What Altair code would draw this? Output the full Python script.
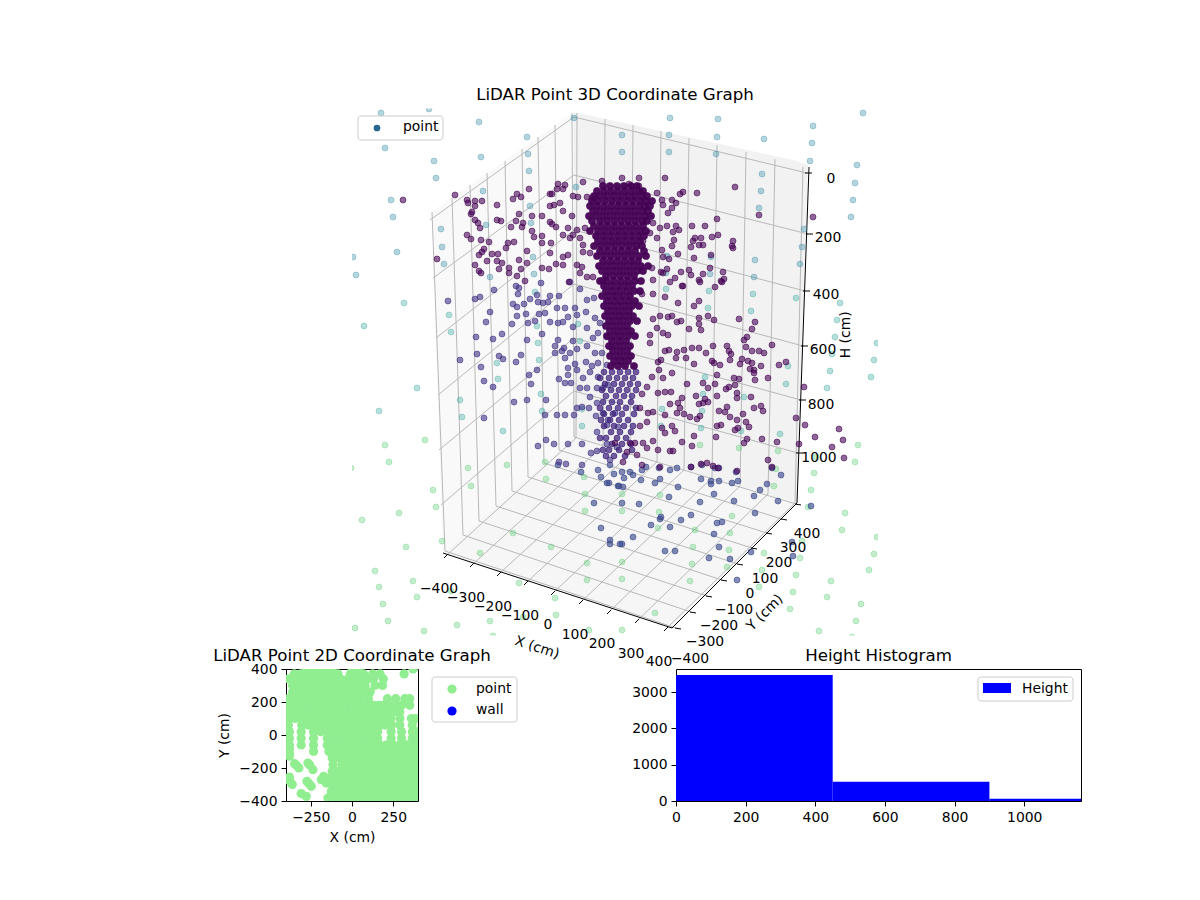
import altair as alt
import pandas as pd

FONT = "DejaVu Sans"
TICK_PX = 13.9
TITLE_PX = 16.67

# ---------- 3D view: projected screen positions ----------
far_top = [(381,113),(429,109),(479,122),(527,137),(574,118),(385,148),(434,161),(481,157),(528,154),(436,178),
 (529,171),(483,191),(391,200),(393,217),(576,187),(530,206),(531,223),(486,225),(441,229),(442,247),(397,252),
 (353,257),(356,275),(444,264),(533,257),(534,274),(490,277),(670,118),(718,119),(863,113),(813,126),(622,135),
 (669,135),(717,137),(764,139),(812,143),(622,152),(669,152),(716,154),(810,161),(857,165),(762,174),(855,183),
 (761,191),(853,200),(759,208),(851,217),(804,229),(802,247),(755,260),(800,264),(754,277),(711,257),(710,274),
 (666,273),(667,256),(622,186)]
far_mid = [(404,303),(364,326),(449,315),(451,332),(535,292),(537,326),(538,343),(539,360),(497,363),(498,379),
 (417,388),(460,400),(379,411),(462,417),(503,431),(541,394),(542,411),(582,426),(578,324),(580,341),(582,409),
 (666,289),(709,291),(753,294),(796,298),(840,303),(708,308),(751,311),(837,320),(835,337),(877,343),(832,354),
 (874,360),(788,366),(830,371),(871,377),(705,377),(786,384),(827,388),(744,397),(703,394),(702,411),(662,409),
 (661,426),(701,428),(741,431),(780,434)]
far_low = [(425,440),(385,445),(389,462),(468,468),(507,465),(545,462),(351,468),(700,445),(739,448),(778,451),
 (858,445),(855,462),(816,457),(433,490),(471,486),(436,507),(399,513),(362,520),(546,479),(584,477),(585,494),
 (585,511),(406,547),(442,541),(513,533),(551,547),(480,553),(587,563),(375,571),(413,581),(379,587),(417,597),
 (451,591),(519,583),(587,580),(383,604),(555,598),(556,615),(523,617),(388,621),(355,628),(424,631),(457,625),
 (490,621),(589,630),(493,636),(814,473),(811,490),(774,486),(776,469),(660,495),(622,494),(622,511),(659,512),
 (658,528),(732,516),(730,533),(695,530),(845,513),(842,530),(877,537),(802,541),(729,550),(693,547),(800,558),
 (764,553),(874,554),(692,564),(727,567),(762,570),(622,562),(869,570),(796,575),(690,581),(622,579),(831,581),
 (759,587),(793,592),(827,597),(655,613),(790,609),(861,604),(856,621),(622,630),(819,631),(852,637),(808,507)]
purple_upper = [(403,200),(455,195),(467,200),(468,203),(475,201),(482,201),(475,206),(472,212),(471,214),(475,220),
 (478,223),(480,228),(497,205),(513,199),(517,194),(521,197),(529,189),(550,194),(552,194),(558,184),(565,185),
 (557,189),(563,189),(583,182),(602,181),(573,196),(578,197),(587,197),(592,198),(550,206),(554,205),(560,203),
 (563,211),(519,214),(532,216),(542,216),(550,222),(552,224),(556,227),(497,220),(501,221),(516,221),(511,227),
 (523,223),(522,227),(532,231),(534,237),(542,236),(551,243),(542,243),(572,216),(563,235),(568,228),(573,235),
 (467,235),(471,239),(481,240),(489,242),(484,249),(482,252),(492,254),(479,255),(498,254),(506,248),(508,243),
 (514,242),(527,251),(550,253),(437,259),(475,265),(487,261),(497,261),(502,263),(499,269),(479,271),(481,273),
 (509,268),(519,260),(527,263),(521,269),(509,273),(517,276),(525,281),(542,268),(549,269),(556,264),(563,265),
 (568,255),(563,257),(577,265),(582,267),(580,273),(569,282),(587,277),(593,277),(603,280),(583,252),(590,253),
 (570,238),(580,238),(583,245),(585,228),(577,230),(622,178),(639,178),(665,178),(629,184),(639,186),(657,193),
 (680,194),(683,192),(697,193),(735,187),(672,200),(676,203),(662,200),(663,205),(672,208),(668,213),(717,219),
 (759,215),(813,217),(692,226),(705,226),(679,230),(676,226),(667,226),(660,228),(653,223),(673,232),(674,240),
 (657,238),(650,233),(643,241),(695,238),(701,238),(712,237),(718,235),(693,241),(691,247),(699,245),(703,245),
 (733,241),(732,246),(733,248),(672,246),(662,250),(678,254),(669,259),(663,257),(694,258),(711,255),(710,268),
 (723,272),(689,270),(681,272),(691,275),(703,274),(652,268),(667,269),(661,272),(663,273),(675,278),(670,282),
 (653,280),(699,280),(724,279),(721,281),(683,286)]
purple_right = [(678,303),(665,297),(694,306),(699,301),(653,294),(642,294),(700,282),(715,287),(722,282),(682,286),
 (739,319),(755,322),(752,329),(714,320),(708,316),(699,318),(699,324),(701,330),(689,329),(681,321),(668,317),
 (660,316),(653,319),(672,316),(677,322),(657,328),(663,333),(668,335),(650,335),(650,343),(747,337),(744,340),
 (746,347),(772,345),(727,346),(729,351),(731,354),(730,360),(752,351),(759,351),(764,353),(713,346),(706,353),
 (699,348),(692,348),(684,350),(677,352),(669,350),(665,351),(686,358),(676,358),(661,360),(658,362),(694,364),
 (712,361),(714,363),(720,365),(742,359),(748,361),(740,364),(752,363),(761,366),(779,365),(786,362),(750,369),
 (754,370),(754,373),(717,375),(734,378),(739,379),(755,380),(768,378),(672,373),(703,383),(715,384),(687,384),
 (708,388),(726,389),(729,387),(735,385),(737,393),(737,398),(751,397),(804,387),(659,370),(652,377),(663,378),
 (647,387),(658,393),(665,392),(671,392),(642,394),(696,396),(717,396),(705,399),(699,404),(703,403),(708,402),
 (682,398),(678,403),(670,404),(680,408),(677,413),(684,414),(727,407),(719,411),(725,412),(730,417),(754,408),
 (761,406),(763,411),(743,414),(796,418),(700,416),(697,419),(690,417),(665,415),(653,412),(648,413),(640,408),
 (647,422),(640,426),(717,426),(721,425),(737,420),(746,422),(749,427),(735,430),(738,428),(694,436),(675,431),
 (665,433),(672,426),(662,428),(805,425),(839,429),(815,437),(843,440),(832,447),(844,458),(799,444),(762,439),
 (747,439),(744,443),(777,442),(716,437),(692,446),(682,442),(670,451),(673,451),(658,450),(653,441),(643,443),
 (647,448),(635,443),(630,443),(627,452),(637,455),(623,462),(660,467),(691,467),(701,464),(707,463),(713,466),
 (718,468),(737,471),(768,460),(772,467),(642,465),(615,443)]
blue_mid = [(448,301),(475,299),(480,297),(494,290),(516,286),(519,288),(518,294),(541,283),(537,295),(530,299),
 (513,304),(517,307),(524,304),(490,312),(486,322),(517,316),(526,314),(512,324),(528,323),(535,321),(539,314),
 (545,313),(550,296),(559,296),(538,302),(543,303),(548,302),(557,308),(565,308),(575,308),(586,312),(594,298),
 (587,300),(580,289),(570,282),(550,322),(558,323),(563,322),(568,317),(577,315),(573,327),(587,328),(595,318),
 (600,323),(476,337),(493,339),(502,334),(527,340),(542,334),(558,340),(555,346),(564,348),(555,353),(562,351),
 (570,353),(573,341),(577,349),(587,346),(593,338),(598,333),(607,337),(611,347),(595,353),(602,353),(477,354),
 (460,360),(499,356),(503,359),(516,362),(521,355),(481,367),(537,370),(529,375),(484,381),(493,387),(531,384),
 (559,379),(565,358),(568,368),(568,375),(565,383),(571,383),(575,364),(577,370),(586,362),(592,366),(598,363),
 (590,372),(583,378),(598,377),(607,365),(608,385),(580,388),(587,388),(597,388),(603,388),(514,402),(527,400),
 (546,400),(484,418),(545,415),(557,415),(565,415),(574,415),(577,408),(582,407),(589,408),(596,416),(590,397),
 (597,403),(603,413),(608,420),(615,413),(607,425),(597,432),(618,427),(538,446),(546,440),(554,444),(568,444),
 (582,444),(607,444),(597,451),(591,453),(559,462),(566,464),(610,460),(617,447),(582,465)]
blue_low = [(581,472),(598,470),(601,477),(610,465),(614,474),(607,483),(609,483),(618,486),(594,503),(601,528),
 (610,540),(610,544),(620,544),(558,465),(622,472),(624,478),(630,472),(633,475),(642,470),(646,467),(659,468),
 (670,470),(677,468),(691,467),(702,465),(715,468),(719,468),(736,472),(772,468),(781,475),(701,479),(711,481),
 (719,481),(711,484),(732,483),(738,481),(767,484),(760,490),(754,496),(778,501),(714,494),(734,501),(678,487),
 (669,497),(655,483),(660,479),(641,480),(619,486),(623,487),(622,503),(639,504),(700,502),(811,506),(755,513),
 (691,515),(681,520),(661,517),(660,519),(651,525),(670,527),(717,523),(722,522),(714,534),(633,537),(622,544),
 (665,551),(675,551),(719,547),(751,552),(792,542),(793,556),(709,558),(730,559),(737,580)]
column_dark = {186:[603,610,617,624,631,637],191:[597,604,611,618,625,632,639,643],
 196:[594,600,607,614,621,628,635,642,647],201:[592,598,605,612,619,626,633,640,646,652],
 206:[590,597,604,611,618,625,632,639,645,650],211:[593,600,607,614,621,628,635,642,648],
 216:[589,596,603,610,617,624,631,638,645,651],221:[592,600,607,614,621,628,635,642,647],
 226:[594,601,608,615,622,629,636,643],231:[590,598,605,612,619,626,633,640,646],
 236:[596,603,610,617,624,631,638,644],241:[598,605,612,619,626,633,640],246:[594,601,608,615,622,629,636,642],
 251:[600,607,614,621,628,635,644],256:[597,604,611,618,625,632,639,646],261:[603,610,617,624,631,638],
 266:[599,606,613,620,627,634,641,648],271:[602,609,616,623,630,637,643],276:[606,613,620,627,634],
 281:[600,607,614,621,628,635,641],286:[604,611,618,625,632],291:[606,613,620,627,634,640],
 296:[602,609,616,623,630],301:[607,614,621,628,635],306:[604,611,618,625,632,639],311:[608,615,622,629],
 316:[605,612,619,626,633],321:[609,616,623,630,637],326:[606,613,620,627],331:[610,617,624,631],
 336:[607,614,621,628,635],341:[612,619,626],346:[609,616,623,630],351:[613,620,627],356:[610,617,624,631],
 361:[614,621,628],366:[611,618,625,634]}
column_light = {372:[604,612,620,628,636],378:[600,609,617,625,633],384:[605,614,622,630,638],390:[602,611,619,627,636],
 396:[606,616,624,632],402:[603,612,620,631],408:[600,609,618,626,636],414:[604,613,622,634],420:[601,610,619,628],
 426:[604,614,624,633],432:[611,620,631],438:[600,606,617,626],444:[612,622,631],450:[603,609,619,632],456:[614,625,606]}

# gridline anchors, in order of tick value
x_front = [(447,555),(473,564),(500,573),(527,582),(554,592),(582,601),(610,611),(638,620),(667,628)]
x_back = [(576,438),(603,446),(630,454),(657,462),(684,470),(712,478),(740,486),(768,494),(795,503)]
x_top = [(577,113),(605,119),(633,125),(661,131),(689,138),(717,145),(746,152),(775,159),(803,167)]
y_front = [(676,628),(691,612),(707,596),(722,580),(738,564),(752,548),(767,533),(782,519),(796,504)]
y_back = [(445,551),(463,535),(479,521),(496,506),(512,491),(528,477),(544,463),(559,450),(574,437)]
y_top = [(432,212),(452,198),(470,185),(487,173),(505,161),(522,149),(538,137),(555,125),(572,113)]
z_left = [(430,220),(433,278),(436,338),(438,395),(439,450),(441,505)]
z_back = [(574,117),(574,175),(574,230),(574,284),(574,338),(574,391)]
z_right = [(807,173),(808,234),(805,291),(803,346),(801,400),(798,453)]

x_tick_text = ["\u2212400","\u2212300","\u2212200","\u2212100","0","100","200","300","400"]
x_tick_pos = [(439,588),(466,597),(493,606),(520,615),(548,624),(575,634),(602,643),(631,653),(659,661)]
y_tick_text = x_tick_text
y_tick_pos = [(690,658),(705,641),(719,625),(734,609),(750,593),(765,578),(779,562),(793,547),(807,533)]
z_tick_text = ["0","200","400","600","800","1000"]
z_tick_pos = [(831,178),(828,237),(826,294),(823,349),(821,404),(819,457)]

# pane outlines: u, upper edge, lower edge
left_pane = [(432,212,212),(443,204,553),(574,112,437)]
right_pane = [(574,112,437),(797,161,503),(808,165,165)]
floor_pane = [(443,553,553),(574,437,596),(672,466,628),(797,503,503)]

U = alt.Scale(domain=[8,1192], nice=False, zero=False)
V = alt.Scale(domain=[669,8], nice=False, zero=False)
ux = alt.X("u:Q", scale=U, axis=None)
vy = alt.Y("v:Q", scale=V, axis=None)

def pane(data, color):
    df = pd.DataFrame(data, columns=["u","v","v2"])
    return alt.Chart(df).mark_area(color=color, opacity=1, stroke=None, interpolate="linear").encode(
        x=ux, y=vy, y2="v2:Q")

def polyline_df(groups):
    out = []
    for gid, pts in enumerate(groups):
        for seq, (a,b) in enumerate(pts):
            out.append({"g":gid,"s":seq,"u":a,"v":b})
    return pd.DataFrame(out)

def lines(groups, color, width):
    return alt.Chart(polyline_df(groups)).mark_line(color=color, strokeWidth=width).encode(
        x=ux, y=vy, detail="g:N", order="s:Q")

grid_groups = ([[a,b,c] for a,b,c in zip(x_front,x_back,x_top)]
             + [[a,b,c] for a,b,c in zip(y_front,y_back,y_top)]
             + [[a,b,c] for a,b,c in zip(z_left,z_back,z_right)])

axis_groups = [[(443,553),(672,628)],[(672,628),(797,503)],[(809,167),(797,503)]]
tick_groups = ([[(a-3,b+3),(a+1,b-1)] for a,b in x_front]
             + [[(a-1,b),(a+5,b+1)] for a,b in y_front]
             + [[(a-2,b),(a+5,b)] for a,b in z_right])

def text_df(labels, pos):
    return pd.DataFrame({"t":labels,"u":[p[0] for p in pos],"v":[p[1]+0.8 for p in pos]})

def texts(df, size=TICK_PX, angle=0, align="center"):
    return alt.Chart(df).mark_text(font=FONT, fontSize=size, color="black", angle=angle,
                                   baseline="middle", align=align).encode(x=ux, y=vy, text="t:N")

mask_df = pd.DataFrame({"u":[8,878,8,8],"u2":[352,1192,1192,1192],"v":[8,8,635.5,8],"v2":[669,669,669,108.5]})
mask = alt.Chart(mask_df).mark_rect(color="white").encode(x=ux, x2="u2:Q", y=vy, y2="v2:Q")

def dots(pts, color, fill_alpha, edge_alpha, size=36):
    df = pd.DataFrame(pts, columns=["u","v"])
    return alt.Chart(df).mark_circle(size=size, color=color, fillOpacity=fill_alpha, stroke=color,
                                     strokeOpacity=edge_alpha, strokeWidth=0.8, opacity=1).encode(x=ux, y=vy)

dark_pts = [(x,y) for y,xs in column_dark.items() for x in xs]
light_pts = [(x,y) for y,xs in column_light.items() for x in xs]
point_layers = [
    dots(far_top,"#2f8aa3",0.36,0.4),
    dots(far_mid,"#37a79b",0.36,0.4),
    dots(far_low,"#5ccd75",0.36,0.4),
    dots(blue_low,"#3a4a8c",0.64,0.72),
    dots(blue_mid,"#3f2f85",0.6,0.68),
    dots(light_pts,"#3b1f7a",0.72,0.72),
    dots(purple_upper+purple_right,"#440154",0.6,0.68),
    dots(dark_pts,"#440154",0.95,0.7,size=52),
]

legend_box_3d = alt.Chart(pd.DataFrame({"u":[358],"u2":[443],"v":[116],"v2":[140]})).mark_rect(
    fill="white", fillOpacity=0.8, stroke="#cccccc", strokeWidth=1, cornerRadius=3).encode(x=ux, x2="u2:Q", y=vy, y2="v2:Q")
legend_dot_3d = alt.Chart(pd.DataFrame({"u":[377],"v":[128]})).mark_circle(size=45, color="#26668f", opacity=1).encode(x=ux, y=vy)

panel_3d = alt.layer(
    pane(left_pane,"#f9f9f9"), pane(right_pane,"#f2f2f2"), pane(floor_pane,"#f6f6f6"),
    lines(grid_groups,"#b8b8b8",1), lines(axis_groups,"black",1), lines(tick_groups,"black",1),
    *point_layers, mask,
    texts(text_df(x_tick_text,x_tick_pos)), texts(text_df(y_tick_text,y_tick_pos)), texts(text_df(z_tick_text,z_tick_pos)),
    texts(text_df(["LiDAR Point 3D Coordinate Graph"],[(615,94.5)]), size=TITLE_PX),
    texts(text_df(["X (cm)"],[(537,647)]), angle=18),
    texts(text_df(["Y (cm)"],[(765,612)]), angle=315),
    texts(text_df(["H (cm)"],[(846,334)]), angle=270),
    legend_box_3d, legend_dot_3d, texts(text_df(["point"],[(403,126)]), align="left"),
).properties(width=1184, height=661, view=alt.ViewConfig(stroke=None))

# ---------- 2D scatter: rows of y, x readings ----------
scatter_rows = {
 400:[-280,-240,-200,-160,-120,0,40,370],
 370:[-350,-310,-270,-230,-190,-150,-110,-85,-10,30,70,125,170,316],
 340:[-385,-345,-305,-265,-225,-185,-145,-105,-70,-25,15,55,95,130,190],
 300:[-360,-320,-280,-240,-200,-160,-120,-80,-40,0,40,80,140,185],
 260:[-360,-320,-280,-240,-200,-160,-120,-80,-40,0,40,70,110],
 220:[-385,-345,-305,-265,-225,-185,-145,-105,-65,-25,15,55,100,215,265,320,350],
 180:[-385,-345,-305,-265,-225,-185,-145,-105,-65,-25,15,55,95,135,165,190,230,265,300,350],
 140:[-385,-345,-305,-265,-225,-185,-145,-105,-65,-25,15,55,95,135,170,210,250,290],
 100:[-385,-345,-305,-265,-225,-185,-145,-105,-65,-25,15,55,95,135,175,195,235,290,360,385],
 60:[-385,-305,-265,-225,-185,-145,-105,-65,-25,15,55,95,135,175,200,240,290,365],
 20:[-379,-308,-233,-190,-150,-110,-70,-30,10,50,90,130,155,237,300,365,395],
 -20:[-379,-308,-233,-150,-110,-70,-30,10,50,90,130,155,237,300,365,395],
 -60:[-379,-308,-233,-150,-110,-70,-30,10,50,90,130,170,210,250,290,330,370,392],
 -85:[-379],
 -100:[-233,-140,-100,-60,-20,20,60,100,140,180,220,260,300,340,380],
 -115:[-379],
 -128:[-379],
 -140:[-120,-80,-40,0,40,80,120,160,200,240,280,320,360,392],
 -170:[-267],
 -174:[-348],
 -180:[-257,-115,-60,-20,20,60,100,140,180,220,260,300,340,380],
 -186:[-334],
 -200:[-322],
 -210:[-237],
 -220:[-120,-80,-40,0,40,80,120,160,200,240,280,320,360,392],
 -250:[-172],
 -255:[-379],
 -271:[-186],
 -260:[-135,-95,-55,-15,25,65,105,145,185,225,265,305,345,380],
 -281:[-375,-273],
 -291:[-156],
 -300:[-362,-120,-90,-50,-10,30,70,110,150,190,230,270,310,350,385],
 -311:[-247],
 -296:[-260],
 -340:[-125,-90,-50,-10,30,70,110,150,190,230,270,310,350,385],
 -355:[-308],
 -362:[-125],
 -372:[-277,-95],
 -380:[-100,-60,-30,5,45,85,125,165,205,245,285,325,365,392],
 -382:[-146],
}
scatter_df = pd.DataFrame([{"x":x,"y":y} for y,xs in scatter_rows.items() for x in xs])
scatter_xticks = [-250,0,250]
scatter_yticks = [-400,-200,0,200,400]

def axis(title, values=None, **kw):
    return alt.Axis(title=title, values=values, grid=False, format="d", domain=False, tickColor="black", tickSize=5,
                    labelFont=FONT, labelFontSize=TICK_PX, labelColor="black", labelPadding=4, labelFlush=False,
                    titleFont=FONT, titleFontSize=TICK_PX, titleColor="black", titleFontWeight="normal", **kw)

def chart_title(s, dy):
    return alt.TitleParams(s, font=FONT, fontSize=TITLE_PX, fontWeight="normal", color="black",
                           anchor="middle", offset=5, dy=dy)

panel_2d = alt.Chart(scatter_df).mark_circle(size=85, color="#90EE90", opacity=1, clip=True).encode(
    x=alt.X("x:Q", scale=alt.Scale(domain=[-400,400], nice=False), axis=axis("X (cm)", scatter_xticks, titlePadding=7)),
    y=alt.Y("y:Q", scale=alt.Scale(domain=[-400,400], nice=False), axis=axis("Y (cm)", scatter_yticks, titlePadding=7)),
).properties(width=132, height=132, title=chart_title("LiDAR Point 2D Coordinate Graph", 8),
             view=alt.ViewConfig(stroke="black", strokeWidth=1))

# ---------- legend between the lower panels ----------
LU = alt.Scale(domain=[418,676], nice=False, zero=False)
LV = alt.Scale(domain=[801,669], nice=False, zero=False)
lx = alt.X("u:Q", scale=LU, axis=None)
ly = alt.Y("v:Q", scale=LV, axis=None)
legend_labels = ["point","wall"]
legend_colors = ["#90EE90","#0000ff"]
legend_box = alt.Chart(pd.DataFrame({"u":[432],"u2":[517],"v":[677],"v2":[722]})).mark_rect(
    fill="white", stroke="#cccccc", strokeWidth=1, cornerRadius=3).encode(x=lx, x2="u2:Q", y=ly, y2="v2:Q")
legend_dots = alt.Chart(pd.DataFrame({"u":[452,452],"v":[689,711],"c":legend_colors})).mark_circle(size=85, opacity=1).encode(
    x=lx, y=ly, color=alt.Color("c:N", scale=None))
legend_text = alt.Chart(pd.DataFrame({"u":[476,476],"v":[689,710],"t":legend_labels})).mark_text(
    font=FONT, fontSize=TICK_PX, align="left", baseline="middle", color="black").encode(x=lx, y=ly, text="t:N")
panel_legend = alt.layer(legend_box, legend_dots, legend_text).properties(width=258, height=132, view=alt.ViewConfig(stroke=None))

# ---------- histogram ----------
bin_lo = [0,450,900]
bin_hi = [450,900,1163]
bin_count = [3470,532,64]
hist_df = pd.DataFrame({"lo":bin_lo,"hi":bin_hi,"count":bin_count,"base":[0,0,0]})
hist_xticks = [0,200,400,600,800,1000]
hist_yticks = [0,1000,2000,3000]
hist_bars = alt.Chart(hist_df).mark_rect(color="#0000ff", clip=True).encode(
    x=alt.X("lo:Q", scale=alt.Scale(domain=[0,1163], nice=False), axis=axis(None, hist_xticks)),
    x2="hi:Q",
    y=alt.Y("count:Q", scale=alt.Scale(domain=[0,3636], nice=False), axis=axis(None, hist_yticks)),
    y2="base:Q",
)
one = pd.DataFrame({"a":[0]})
hist_box = alt.Chart(one).mark_rect(fill="white", fillOpacity=0.8, stroke="#cccccc", strokeWidth=1, cornerRadius=3).encode(
    x=alt.value(302), x2=alt.value(397), y=alt.value(8), y2=alt.value(32))
hist_patch = alt.Chart(one).mark_rect(color="#0000ff").encode(
    x=alt.value(307), x2=alt.value(335), y=alt.value(14), y2=alt.value(24))
hist_label = alt.Chart(one).mark_text(text="Height", font=FONT, fontSize=TICK_PX, align="left", baseline="middle", color="black").encode(
    x=alt.value(346), y=alt.value(20))
panel_hist = alt.layer(hist_bars, hist_box, hist_patch, hist_label).properties(
    width=405, height=132, title=chart_title("Height Histogram", 1), view=alt.ViewConfig(stroke="black", strokeWidth=1))

spacer = alt.Chart(one).mark_point(opacity=0).encode(
    x=alt.X("a:Q", axis=None), y=alt.Y("a:Q", axis=None)).properties(width=278, height=132, view=alt.ViewConfig(stroke=None))

lower = alt.hconcat(spacer, panel_2d, panel_legend, panel_hist, spacing=0, bounds="flush")
chart = alt.vconcat(panel_3d, lower, spacing=0, bounds="flush").properties(
    padding=0, background="white").resolve_scale(color="independent")

chart.save("out.html", embed_options={"renderer": "svg", "actions": False})
